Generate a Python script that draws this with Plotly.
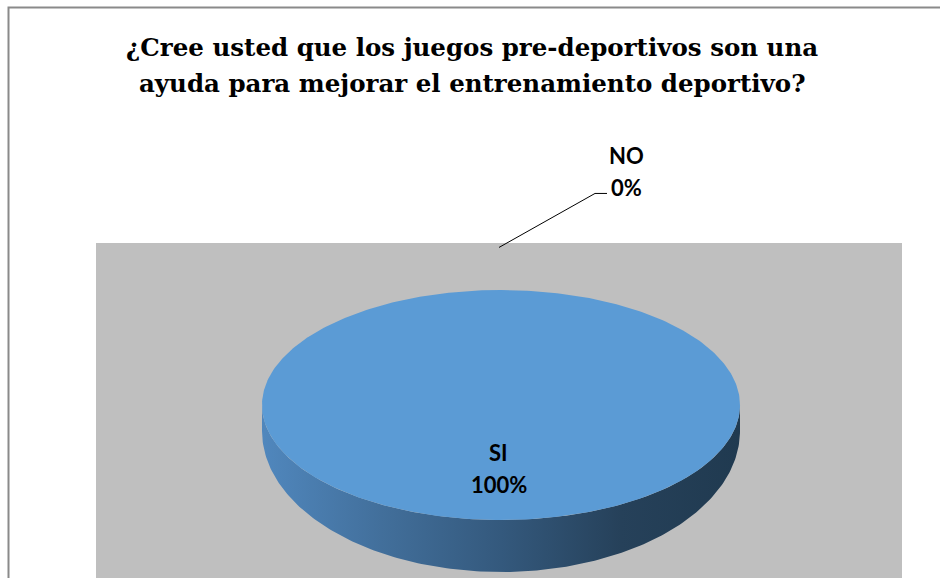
import numpy as np
import plotly.graph_objects as go

# Survey answers
categories = ["SI", "NO"]
values = [100, 0]
title_lines = [
    "¿Cree usted que los juegos pre-deportivos son una",
    "ayuda para mejorar el entrenamiento deportivo?",
]

W, H = 940, 578

# Disc geometry (pixel space)
CX, CY = 501, 405          # centre of the top face
RX, RY = 239, 115          # radii of the top face
BCY, BRY = 431, 141        # lower rim of the disc (slightly taller: perspective)
TOP_COLOR = "#5b9bd5"
SIDE_SCALE = [[0.0, "#5087bd"], [0.25, "#426f9b"], [0.5, "#34597d"],
              [0.75, "#26415a"], [1.0, "#203a50"]]

TITLE_FONT = "DejaVu Serif"
LABEL_FONT = "Lato"

total = float(sum(values))
fractions = np.array(values, dtype=float) / total
# angles run clockwise from 12 o'clock, in degrees
starts = np.concatenate([[0.0], np.cumsum(fractions)[:-1]]) * 360.0
ends = starts + fractions * 360.0


def ellipse(theta_deg, cy, ry, scale=1.0):
    t = np.radians(theta_deg)
    return CX + RX * scale * np.sin(t), cy - ry * scale * np.cos(t)


fig = go.Figure()

# Side wall: the part of every slice lying on the front half (90..270 deg)
for cat, s, e in zip(categories, starts, ends):
    a0, a1 = max(s, 90.0), min(e, 270.0)
    if a1 <= a0:
        continue
    th = np.linspace(a0, a1, 200)
    tx, ty = ellipse(th, CY, RY)
    bx, by = ellipse(th[::-1], BCY, BRY)
    fig.add_trace(go.Scatter(
        x=np.concatenate([tx, bx]), y=np.concatenate([ty, by]),
        mode="lines", fill="toself", line=dict(width=0),
        fillgradient=dict(type="horizontal", colorscale=SIDE_SCALE),
        hoverinfo="skip", showlegend=False,
    ))

# Top faces of the slices
for cat, f, s, e in zip(categories, fractions, starts, ends):
    if f <= 0:
        continue
    th = np.linspace(s, e, 400)
    x, y = ellipse(th, CY, RY)
    if f < 1:
        x = np.concatenate([[CX], x, [CX]])
        y = np.concatenate([[CY], y, [CY]])
    fig.add_trace(go.Scatter(
        x=x, y=y, mode="lines", fill="toself", fillcolor=TOP_COLOR,
        line=dict(width=0), hoverinfo="skip", showlegend=False,
    ))

annotations = []
shapes = [
    # plot area
    dict(type="rect", xref="x", yref="y", x0=96, x1=902, y0=243, y1=H + 5,
         fillcolor="#bfbfbf", line=dict(width=0), layer="below"),
    # chart frame
    dict(type="path", xref="x", yref="y", path=f"M 8.5 {H + 20} L 8.5 7.5 L {W + 20} 7.5",
         line=dict(color="#8a8a8a", width=2), layer="above"),
]

for cat, f, v, s, e in zip(categories, fractions, values, starts, ends):
    mid = (s + e) / 2.0
    pct = f"{v / total * 100:.0f}%"
    if f > 0:
        lx, ly = ellipse(mid, CY, RY, scale=0.55)
        pos = [(lx - 3, ly - 16), (lx - 2, ly + 16)]
    else:
        # outside label with leader line
        px, py = ellipse(mid, CY, RY, scale=1.37)
        kx, ky = px + 94, py - 54
        shapes.append(dict(type="path", xref="x", yref="y",
                           path=f"M {px - 2} {py} L {kx} {ky} L {kx + 12} {ky}",
                           line=dict(color="#000000", width=1)))
        pos = [(kx + 31, ky - 38), (kx + 31, ky - 6)]
    for (ax, ay), txt in zip(pos, [cat, pct]):
        annotations.append(dict(
            x=ax, y=ay, text="<b>" + txt + "</b>", showarrow=False,
            font=dict(family=LABEL_FONT, size=22, color="#000000"),
        ))

# Two-line title, one annotation per line for exact spacing
for i, line in enumerate(title_lines):
    annotations.append(dict(
        x=472, y=47 + 36 * i, text="<b>" + line + "</b>", showarrow=False,
        font=dict(family=TITLE_FONT, size=24.5, color="#000000"),
    ))

fig.update_layout(
    width=W, height=H, margin=dict(l=0, r=0, t=0, b=0),
    paper_bgcolor="#ffffff", plot_bgcolor="#ffffff",
    xaxis=dict(range=[0, W], visible=False, fixedrange=True),
    yaxis=dict(range=[H, 0], visible=False, fixedrange=True),
    shapes=shapes, annotations=annotations, showlegend=False,
)

fig.write_html("out.html")
